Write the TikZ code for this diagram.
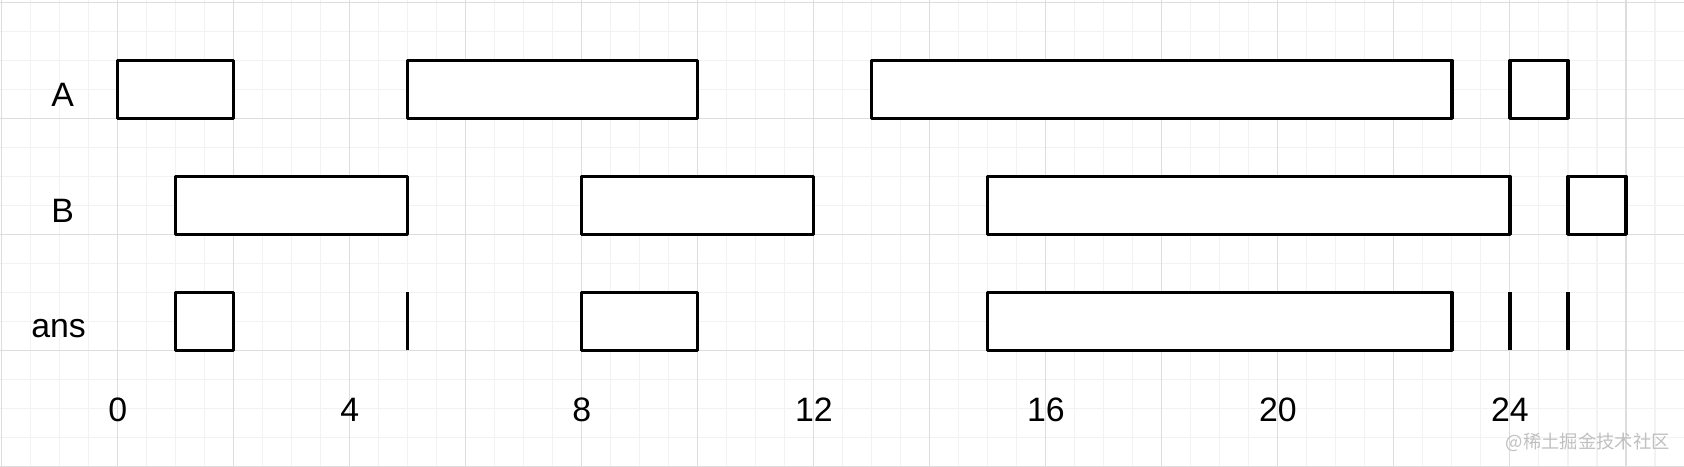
\documentclass[tikz,border=0pt]{standalone}
\usepackage{fontspec}
\setmainfont{Liberation Sans}
\newfontfamily\cjkfont{Noto Sans CJK SC}
\usetikzlibrary{positioning}
\definecolor{gridmajor}{HTML}{DDDDDD}
\definecolor{gridminor}{HTML}{F2F2F2}
\definecolor{marktext}{HTML}{C0C0C0}

\begin{document}
\begin{tikzpicture}[line join=round,
    seg/.style={line width=1.5pt,fill=white},
    lab/.style={anchor=base,font=\fontsize{16.6}{20}\selectfont}]
    \useasboundingbox (-2.03,-4.0) rectangle (27.0,4.04);
    % grid
    \draw[gridminor,line width=0.5pt,step=0.5] (-2.03,-4.0) grid (27.0,4.04);
    \draw[gridmajor,line width=0.5pt,step=2] (-2.03,-4.0) grid (27.0,4.04);
    % rows
    \node[lab] (labA) at (-0.95,2.21) {A};
    \node[lab] (labB) at (-0.95,0.21) {B};
    \node[lab] (labAns) at (-1.02,-1.78) {ans};
    \foreach \s/\e in {0/2,5/10,13/23,24/25}
      \draw[seg] (\s,2) rectangle (\e,3);
    \foreach \s/\e in {1/5,8/12,15/24,25/26}
      \draw[seg] (\s,0) rectangle (\e,1);
    \foreach \s/\e in {1/2,8/10,15/23}
      \draw[seg] (\s,-2) rectangle (\e,-1);
    \foreach \s in {5,24,25}
      \draw[seg] (\s,-2) -- (\s,-1);
    % axis
    \foreach \t in {0,4,...,24}
      \node[lab] (tick\t) at (\t,-3.23) {\t};
    \node[font=\cjkfont\fontsize{9}{10}\selectfont,text=marktext] (mark) at (25.34,-3.58) {@稀土掘金技术社区};
\end{tikzpicture}
\end{document}
